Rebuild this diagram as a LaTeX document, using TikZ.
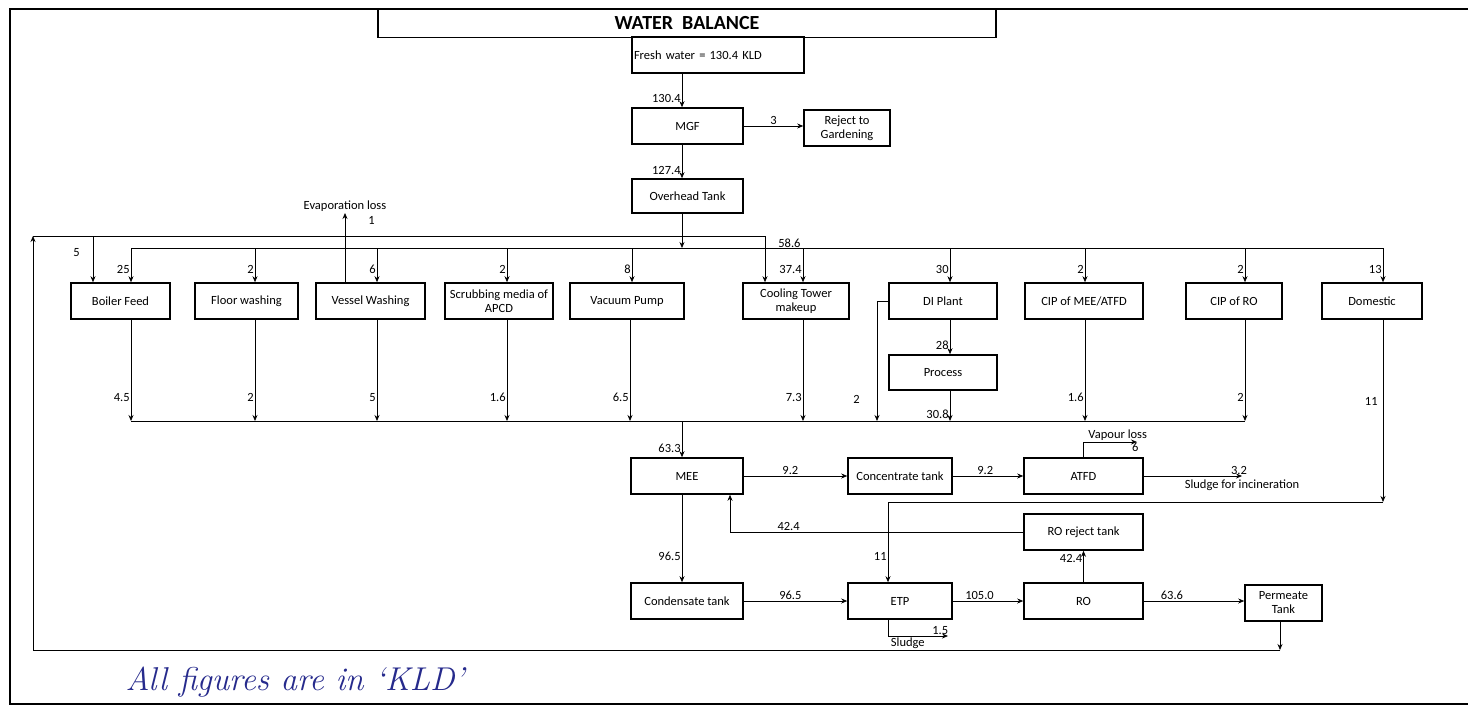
\documentclass[tikz,border=0pt]{standalone}
\usepackage{fontspec}
\newfontfamily\boxfont{Carlito}
\usetikzlibrary{arrows.meta}
\definecolor{handblue}{RGB}{38,42,140}
\tikzset{
    blk/.style={draw, line width=1.6pt, minimum height=36pt, inner sep=1pt, align=center, font=\boxfont\fontsize{12.5}{14}\selectfont},
    lbl/.style={inner sep=1pt, font=\boxfont\fontsize{12.5}{14}\selectfont},
    arr/.style={line width=0.7pt, -{Stealth[length=6pt,width=5pt]}},
    pipe/.style={line width=0.7pt}
}
\begin{document}
\begin{tikzpicture}[x=1pt,y=-1pt]
    \useasboundingbox (0,0) rectangle (1468,712);
    % sheet frame
    \draw[line width=1.5pt] (1470,9) -- (10,9) -- (10,704) -- (1470,704);

    % top part
    \node[blk, line width=1.5pt, minimum width=618pt, minimum height=29pt, font=\boxfont\bfseries\fontsize{20}{22}\selectfont] (title) at (687,23) {WATER\ \ BALANCE};
    \node[blk, line width=1.5pt, inner xsep=2pt, text width=168pt, align=left] (fresh) at (718,55) {Fresh water = 130.4 KLD};
    \node[blk, minimum width=111pt] (mgf) at (687.5,126) {MGF};
    \node[blk, minimum width=86pt] (reject) at (847,128) {Reject to\\Gardening};
    \node[blk, minimum width=111pt, minimum height=34pt] (over) at (687.5,196) {Overhead Tank};

    % user row
    \foreach \nm/\bx/\bw/\txt in {boiler/120.5/99/Boiler Feed, floor/246.5/103/Floor washing,
        vessel/370.5/109/Vessel Washing, scrub/499/108/{Scrubbing media of\\APCD},
        vacuum/627/114/Vacuum Pump, cooling/796/106/{Cooling Tower\\makeup}, di/943/108/DI Plant,
        cipmee/1084/118/{CIP of MEE/ATFD}, cipro/1234/96/CIP of RO, dom/1372/100/Domestic} {
        \node[blk, minimum width=\bw pt] (\nm) at (\bx,301) {\txt};
    }
    \node[blk, minimum width=108pt, minimum height=35pt] (process) at (943,372.5) {Process};

    % treatment part
    \node[blk, minimum width=112pt] (mee) at (687,476) {MEE};
    \node[blk, minimum width=104pt] (conc) at (900,476) {Concentrate tank};
    \node[blk, minimum width=119pt] (atfd) at (1083.5,476) {ATFD};
    \node[blk, minimum width=119pt] (rorej) at (1083.5,532) {RO reject tank};
    \node[blk, minimum width=112pt] (cond) at (687,601) {Condensate tank};
    \node[blk, minimum width=104pt] (etp) at (900,601) {ETP};
    \node[blk, minimum width=119pt] (ro) at (1083.5,601) {RO};
    \node[blk, minimum width=77pt] (perm) at (1283.5,603) {Permeate\\Tank};

    % fresh water spine
    \coordinate (spine) at (682,0);
    \draw[arr] (spine |- fresh.south) -- (spine |- mgf.north) node[lbl, pos=0.74, left] {130.4};
    \draw[arr] (mgf.east) -- (mgf.east -| reject.west) node[lbl, pos=0.5, above] {3};
    \draw[arr] (spine |- mgf.south) -- (spine |- over.north) node[lbl, pos=0.78, left] {127.4};

    % distribution header and feeds
    \foreach \nm/\tx/\val in {boiler/131/25, floor/255/2, vessel/377/6, scrub/507/2, vacuum/632/8,
        cooling/803/37.4, di/950/30, cipmee/1085/2, cipro/1245/2, dom/1383/13} {
        \coordinate (in-\nm) at (\tx,248);
        \draw[arr] (in-\nm) -- (in-\nm |- \nm.north) node[lbl, pos=0.63, left] {\val};
    }
    \draw[pipe] (in-boiler) -- (in-dom);
    \draw[arr] (spine |- over.south) -- (spine |- in-boiler);
    \draw[arr] (in-di |- di.south) -- (in-di |- process.north) node[lbl, pos=0.75, left] {28};

    % evaporation loss
    \coordinate (evap) at (345,213);
    \draw[arr] (evap |- vessel.north) -- (evap) node[lbl, above] {Evaporation loss}
        node[lbl, pos=0.89, right=22pt] {1};

    % effluent collection
    \foreach \nm/\tx/\val in {boiler/131/4.5, floor/255/2, vessel/377/5, scrub/507/1.6, vacuum/630/6.5,
        cooling/803/7.3, process/950/30.8, cipmee/1085/1.6, cipro/1245/2} {
        \coordinate (out-\nm) at (\tx,421);
        \draw[arr] (out-\nm |- \nm.south) -- (out-\nm) node[lbl, pos=0.77, left] {\val};
    }
    \coordinate (out-di) at (877,421);
    \draw[arr] (di.west) -| (out-di) node[lbl, pos=0.91, left=16pt] {2};
    \draw[pipe] (out-boiler) -- (out-cipro);
    \draw[arr] (spine |- out-boiler) -- (spine |- mee.north) node[lbl, pos=0.75, left] {63.3};

    % MEE / ATFD
    \draw[arr] (mee.east) -- (conc.west) node[lbl, pos=0.45, above] {9.2};
    \draw[arr] (conc.east) -- (atfd.west) node[lbl, pos=0.46, above] {9.2};
    \coordinate (vapour) at (1137,442);
    \draw[arr] (atfd.north) -- (atfd.north |- vapour) -- (vapour)
        node[lbl, pos=0.64, above] {Vapour loss} node[lbl, pos=0.97, below] {6};
    \coordinate (sludge) at (1242,476);
    \draw[arr] (atfd.east) -- (sludge) node[lbl, pos=0.97, above] {3.2}
        node[lbl, pos=1, below=2pt] {Sludge for incineration};

    % domestic to ETP
    \coordinate (domcorner) at (1383,502);
    \coordinate (etpin) at (888,502);
    \draw[arr] (in-dom |- dom.south) -- (domcorner) node[lbl, pos=0.45, left=4pt] {11};
    \draw[arr] (domcorner) -- (etpin) -- (etpin |- etp.north) node[lbl, pos=0.68, left] {11};

    % RO reject back to MEE
    \coordinate (rejmee) at (730,532);
    \draw[arr] (rorej.west) -- (rejmee) node[lbl, pos=0.8, above] {42.4} -- (rejmee |- mee.south);
    \draw[arr] (ro.north) -- (rorej.south) node[lbl, pos=0.76, left] {42.4};

    % bottom line
    \draw[arr] (spine |- mee.south) -- (spine |- cond.north) node[lbl, pos=0.7, left] {96.5};
    \draw[arr] (cond.east) -- (etp.west) node[lbl, pos=0.45, above] {96.5};
    \draw[arr] (etp.east) -- (ro.west) node[lbl, pos=0.38, above] {105.0};
    \draw[arr] (ro.east) -- (ro.east -| perm.west) node[lbl, pos=0.28, above] {63.6};
    \coordinate (etpsl) at (888,636);
    \coordinate (etpslend) at (948,636);
    \draw[arr] (etpsl |- etp.south) -- (etpsl) -- (etpslend)
        node[lbl, pos=0.87, above] {1.5} node[lbl, pos=0.33, below] {Sludge};

    % permeate recycle
    \coordinate (rcbr) at (1280,650);
    \coordinate (rcbl) at (33,650);
    \coordinate (rctl) at (33,236);
    \coordinate (rctr) at (765,236);
    \coordinate (rcboil) at (93,236);
    \draw[arr] (rcbr |- perm.south) -- (rcbr);
    \draw[arr] (rcbr) -- (rcbl) -- (rctl);
    \draw[arr] (rctl) -- (rctr) -- (rctr |- cooling.north) node[lbl, pos=0.15, right=12pt] {58.6};
    \draw[arr] (rcboil) -- (rcboil |- boiler.north) node[lbl, pos=0.36, left=12pt] {5};

    \node[font=\fontsize{33}{35}\selectfont\itshape, text=handblue, anchor=west] (note) at (122,682) {All figures are in `KLD'};
\end{tikzpicture}
\end{document}
